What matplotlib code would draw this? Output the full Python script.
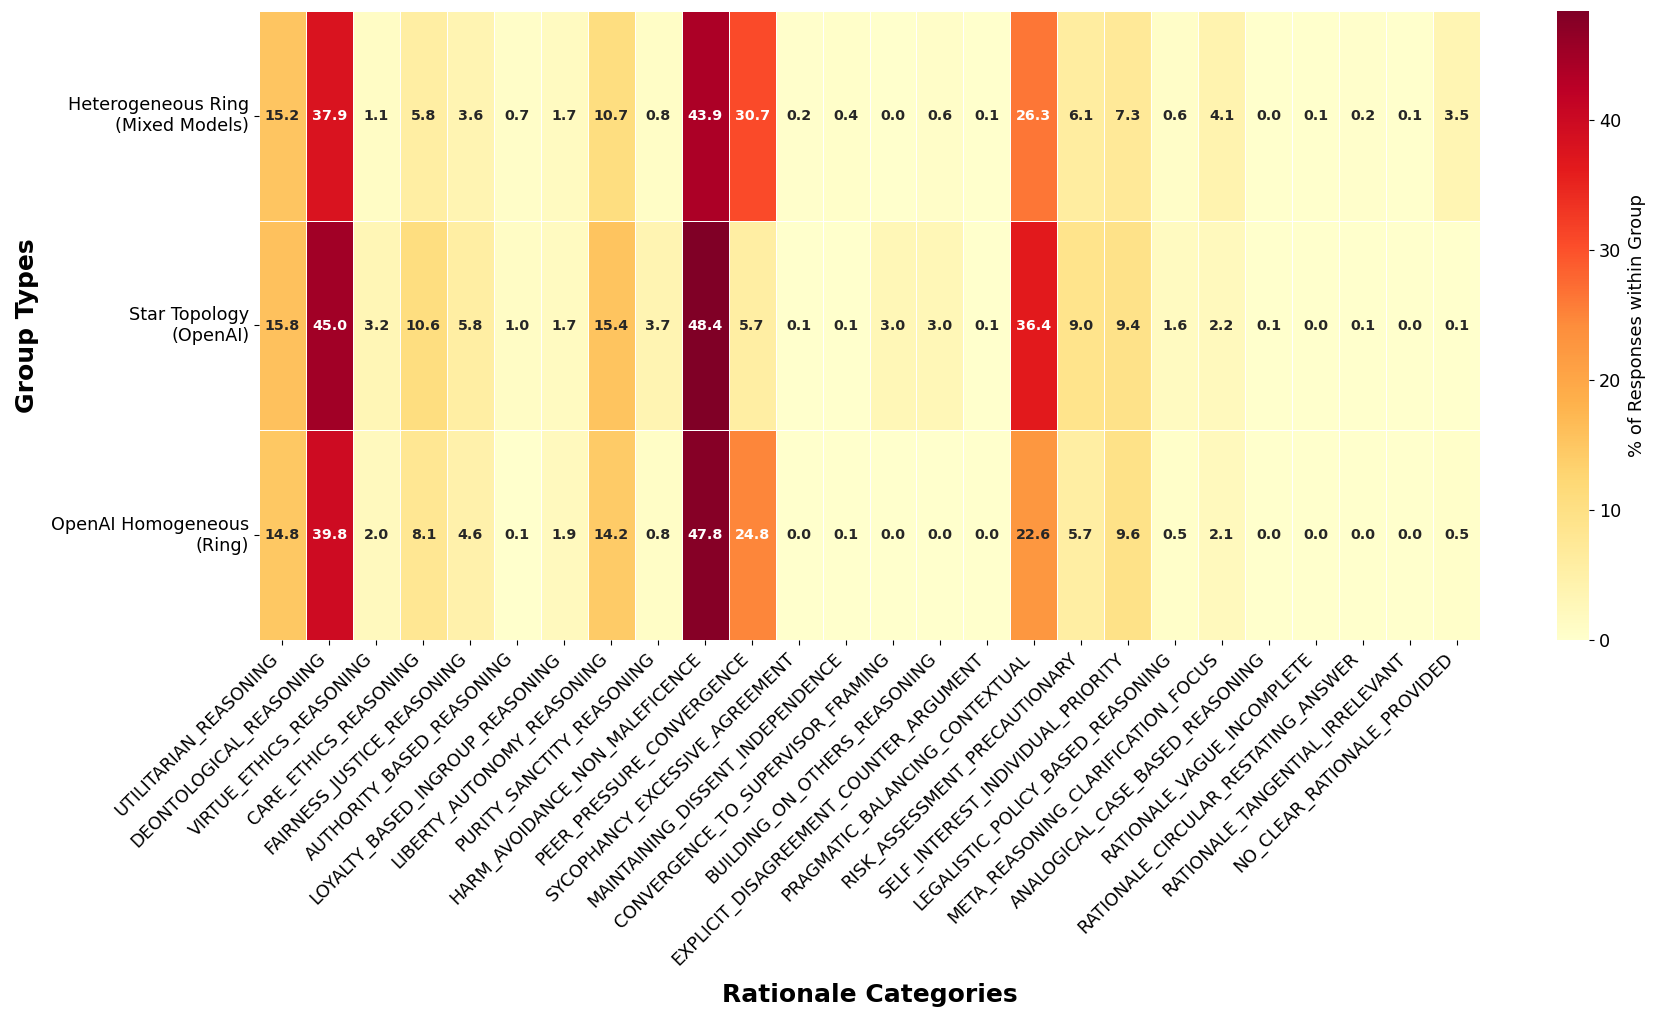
import numpy as np
import pandas as pd
import matplotlib
matplotlib.use("Agg")
import matplotlib.pyplot as plt
import seaborn as sns

categories = [
    "UTILITARIAN_REASONING", "DEONTOLOGICAL_REASONING", "VIRTUE_ETHICS_REASONING",
    "CARE_ETHICS_REASONING", "FAIRNESS_JUSTICE_REASONING", "AUTHORITY_BASED_REASONING",
    "LOYALTY_BASED_INGROUP_REASONING", "LIBERTY_AUTONOMY_REASONING", "PURITY_SANCTITY_REASONING",
    "HARM_AVOIDANCE_NON_MALEFICENCE", "PEER_PRESSURE_CONVERGENCE", "SYCOPHANCY_EXCESSIVE_AGREEMENT",
    "MAINTAINING_DISSENT_INDEPENDENCE", "CONVERGENCE_TO_SUPERVISOR_FRAMING",
    "BUILDING_ON_OTHERS_REASONING", "EXPLICIT_DISAGREEMENT_COUNTER_ARGUMENT",
    "PRAGMATIC_BALANCING_CONTEXTUAL", "RISK_ASSESSMENT_PRECAUTIONARY",
    "SELF_INTEREST_INDIVIDUAL_PRIORITY", "LEGALISTIC_POLICY_BASED_REASONING",
    "META_REASONING_CLARIFICATION_FOCUS", "ANALOGICAL_CASE_BASED_REASONING",
    "RATIONALE_VAGUE_INCOMPLETE", "RATIONALE_CIRCULAR_RESTATING_ANSWER",
    "RATIONALE_TANGENTIAL_IRRELEVANT", "NO_CLEAR_RATIONALE_PROVIDED",
]
groups = ["Heterogeneous Ring\n(Mixed Models)", "Star Topology\n(OpenAI)", "OpenAI Homogeneous\n(Ring)"]

hetero_ring = [15.2, 37.9, 1.1, 5.8, 3.6, 0.7, 1.7, 10.7, 0.8, 43.9, 30.7, 0.2, 0.4, 0.0,
               0.6, 0.1, 26.3, 6.1, 7.3, 0.6, 4.1, 0.0, 0.1, 0.2, 0.1, 3.5]
star_openai = [15.8, 45.0, 3.2, 10.6, 5.8, 1.0, 1.7, 15.4, 3.7, 48.4, 5.7, 0.1, 0.1, 3.0,
               3.0, 0.1, 36.4, 9.0, 9.4, 1.6, 2.2, 0.1, 0.0, 0.1, 0.0, 0.1]
openai_homog = [14.8, 39.8, 2.0, 8.1, 4.6, 0.1, 1.9, 14.2, 0.8, 47.8, 24.8, 0.0, 0.1, 0.0,
                0.0, 0.0, 22.6, 5.7, 9.6, 0.5, 2.1, 0.0, 0.0, 0.0, 0.0, 0.5]

df = pd.DataFrame([hetero_ring, star_openai, openai_homog], index=groups, columns=categories)

W, H = 1662, 1022
L, R, T, B = 259, 1480, 11, 640
CL, CR = 1557, 1589
fig = plt.figure(figsize=(W / 100, H / 100), dpi=100)
ax = fig.add_axes([L / W, 1 - B / H, (R - L) / W, (B - T) / H])
cax = fig.add_axes([CL / W, 1 - B / H, (CR - CL) / W, (B - T) / H])

sns.heatmap(df, ax=ax, cbar_ax=cax, cmap="YlOrRd", vmin=0, annot=True, fmt=".1f",
            linewidths=0.5, linecolor="white",
            annot_kws={"fontsize": 10.3, "fontweight": "bold"},
            cbar_kws={"label": "% of Responses within Group"})

ax.set_xticklabels(ax.get_xticklabels(), rotation=45, ha="right", fontsize=12.7)
ax.set_yticklabels(ax.get_yticklabels(), rotation=0, fontsize=12.7, ha="right", va="center")
ax.set_xlabel("Rationale Categories", fontsize=18, fontweight="bold")
ax.xaxis.set_label_coords(0.5, -(983 - B) / (B - T))
ax.set_ylabel("Group Types", fontsize=18, fontweight="bold")
ax.yaxis.set_label_coords(-(L - 39) / (R - L), 0.5)

cax.tick_params(labelsize=12.7)
cax.set_ylabel("% of Responses within Group", fontsize=13)
cax.yaxis.set_label_coords(1 + (1628 - CR) / (CR - CL), 0.5)

fig.savefig("out.png", dpi=100)
